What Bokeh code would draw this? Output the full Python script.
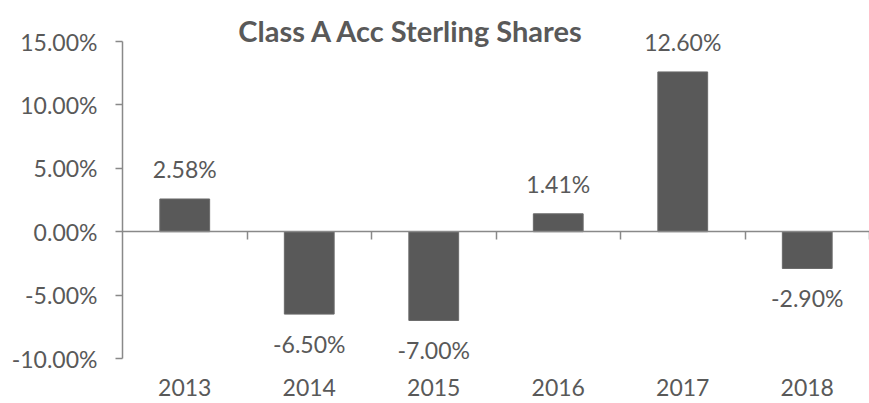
import numpy as np
from bokeh.plotting import figure
from bokeh.models import Range1d, LinearAxis, FixedTicker, ColumnDataSource, Label, LabelSet
from bokeh.embed import file_html
from bokeh.resources import INLINE
from bokeh.core.properties import value

years = ["2013", "2014", "2015", "2016", "2017", "2018"]
returns = [2.58, -6.50, -7.00, 1.41, 12.60, -2.90]
y_ticks = [-10, -5, 0, 5, 10, 15]
title_text = "Class A Acc Sterling Shares"

FONT = "Lato"
GRAY = "#595959"
AXIS = "#898989"

# frame extends beyond the axis extent so labels/title are not clipped
PX_PER_UNIT = 12.68
Y_TOP = 15 + 41 / PX_PER_UNIT
Y_BOT = -10 - 14 / PX_PER_UNIT

x_pos = np.arange(len(years)) + 0.5
labels = ["%.2f%%" % v for v in returns]
src = ColumnDataSource(dict(
    x=x_pos, top=returns, lab=labels,
    off=[30 if v >= 0 else -30 for v in returns],
))

p = figure(width=869, height=403, output_backend="svg", toolbar_location=None,
           x_range=Range1d(0, len(years)), y_range=Range1d(Y_BOT, Y_TOP),
           x_axis_location=None, y_axis_location=None,
           min_border_left=122, min_border_right=0, min_border_top=0,
           min_border_bottom=31)
p.outline_line_color = None
p.xgrid.visible = False
p.ygrid.visible = False
p.background_fill_color = "white"

p.vbar(x="x", top="top", bottom=0, width=0.4, source=src,
       fill_color=GRAY, line_color="#6a6a6a", line_width=1)

data_labels = LabelSet(x="x", y="top", text="lab", source=src, y_offset="off",
                       text_align="center", text_baseline="middle",
                       text_font=value(FONT), text_font_size="23px", text_color=GRAY)
p.add_layout(data_labels)

# y axis
ya = LinearAxis(ticker=FixedTicker(ticks=y_ticks), bounds=(y_ticks[0], y_ticks[-1]))
ya.major_label_overrides = {t: "%.2f%%" % t for t in y_ticks}
ya.axis_line_color = AXIS
ya.axis_line_width = 1.5
ya.major_tick_line_color = AXIS
ya.major_tick_line_width = 1.5
ya.major_tick_out = 7
ya.major_tick_in = 0
ya.minor_tick_line_color = None
ya.major_label_standoff = 18
ya.major_label_text_font = FONT
ya.major_label_text_font_size = "23px"
ya.major_label_text_color = GRAY
p.add_layout(ya, "left")

# category labels axis
xa = LinearAxis(ticker=FixedTicker(ticks=list(x_pos)))
xa.major_label_overrides = {float(x): y for x, y in zip(x_pos, years)}
xa.axis_line_color = None
xa.major_tick_line_color = None
xa.minor_tick_line_color = None
xa.major_label_standoff = 0
xa.major_label_text_font = FONT
xa.major_label_text_font_size = "23px"
xa.major_label_text_color = GRAY
p.add_layout(xa, "below")

# zero line axis with category boundary ticks (no labels)
boundaries = list(range(1, len(years) + 1))
za = LinearAxis(ticker=FixedTicker(ticks=boundaries), fixed_location=0)
za.major_label_overrides = {b: "" for b in boundaries}
za.axis_line_color = AXIS
za.axis_line_width = 1.5
za.major_tick_line_color = AXIS
za.major_tick_line_width = 1.5
za.major_tick_in = 0
za.major_tick_out = 8
za.minor_tick_line_color = None
za.major_label_text_font_size = "1px"
za.major_label_standoff = 0
p.add_layout(za, "below")

title = Label(x=289, y=342, x_units="screen", y_units="screen",
              text=title_text, text_font=FONT, text_font_size="29px",
              text_font_style="bold", text_color=GRAY,
              text_align="center", text_baseline="middle")
p.add_layout(title)

open("out.html", "w").write(file_html(p, INLINE))
